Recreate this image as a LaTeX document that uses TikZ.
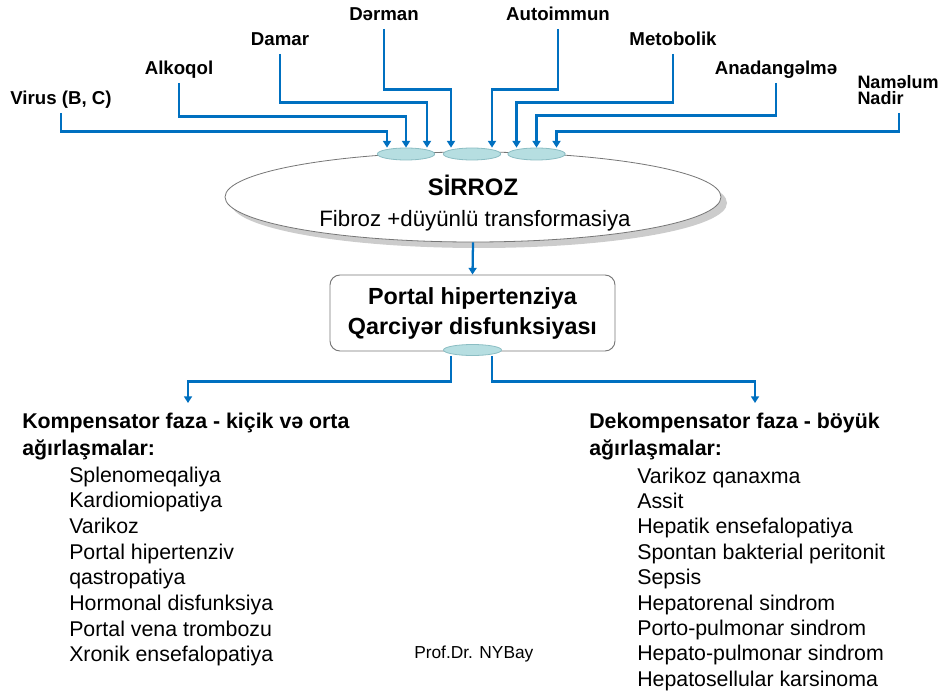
\documentclass[tikz,border=0pt]{standalone}
\usepackage{fontspec}
\setmainfont{Liberation Sans}
\usepackage{tikz}
\usetikzlibrary{arrows.meta,calc,shapes.geometric,shadows}
\definecolor{figblue}{HTML}{0070C0}
\definecolor{figteal}{HTML}{B6DEE1}
\definecolor{figtealdark}{HTML}{8BBDC3}
\definecolor{figgray}{HTML}{767676}
\tikzset{
  feed/.style={figblue,line width=1.7pt,-{Triangle[width=6pt,length=5pt]}},
  joint/.style={ellipse,draw=figtealdark,fill=figteal,line width=0.6pt,minimum width=43pt,minimum height=9pt,inner sep=0pt},
  cause/.style={font=\fontsize{14}{16}\selectfont\bfseries,text depth=0.25em,inner sep=3.3pt,anchor=south},
  phase/.style={font=\fontsize{16}{20}\selectfont\bfseries,anchor=base west,inner sep=0pt},
  item/.style={font=\fontsize{16}{19}\selectfont,anchor=base west,inner sep=0pt}
}
\begin{document}
\begin{tikzpicture}[x=0.75pt,y=-0.75pt]
    \useasboundingbox (0,0) rectangle (941,695);
    \node[ellipse,draw=figgray,fill=white,line width=0.6pt,minimum width=372pt,minimum height=67.5pt,inner sep=0pt,
      drop shadow={shadow xshift=4.5pt,shadow yshift=-4.5pt,opacity=0.4}] (sirroz) at (473,197) {};
    \node[font=\fontsize{17.9}{20}\selectfont\bfseries,anchor=base] (sirrozT) at (473,196) {SİRROZ};
    \node[font=\fontsize{16.7}{20}\selectfont,anchor=base] (sirrozS) at (475,226) {Fibroz +düyünlü transformasiya};
    \node[joint] (j1) at (406,154) {};
    \node[joint] (j2) at (472,154) {};
    \node[joint] (j3) at (536.5,154) {};
    \node[cause] (virus) at (61,113) {Virus (B, C)};
    \node[cause] (alkoqol) at (179,83) {Alkoqol};
    \node[cause] (damar) at (280,54) {Damar};
    \node[cause] (derman) at (384,29) {Dərman};
    \node[cause] (autoimmun) at (558,29) {Autoimmun};
    \node[cause] (metobolik) at (673,54) {Metobolik};
    \node[cause] (anadangelme) at (776,83) {Anadangəlmə};
    \node[cause,font=\fontsize{13.5}{12.5}\selectfont\bfseries,align=left] (namelum) at (898,113) {Naməlum\\Nadir};
    \foreach \src/\sx/\dst/\dx/\dy in {virus/0/j1/-19/-16, alkoqol/0/j1/0/-31, damar/0/j1/21/-45,
      derman/0/j2/-21/-58, autoimmun/0/j2/20/-58, metobolik/0/j3/-20/-45,
      anadangelme/0/j3/0/-32, namelum/1/j3/20/-16}
      \draw[feed] ($(\src.south)+(\sx,0)$) |- ($(\dst.north)+(\dx,\dy)$) -- ($(\dst.north)+(\dx,0)$);
    \node[draw=figgray,line width=0.7pt,rounded corners=7.5pt,minimum width=213.75pt,minimum height=57pt,align=center,
      font=\fontsize{17.5}{22.5}\selectfont\bfseries] (portal) at (472.5,313) {Portal hipertenziya\\Qarciyər disfunksiyası};
    \node[joint,minimum width=43.5pt,minimum height=8.25pt] (jp) at (472.5,350) {};
    \draw[feed] (sirroz.south) -- (portal.north);
    \coordinate (kompIn) at (188,403);
    \coordinate (dekIn) at (755,403);
    \draw[feed] ($(jp.south)+(-21.5,0)$) -- ++(0,25.5) -| (kompIn);
    \draw[feed] ($(jp.south)+(19.5,0)$) -- ++(0,25.5) -| (dekIn);
    \node[phase] (kompA) at (22,428) {Kompensator faza - kiçik və orta};
    \node[phase] (kompB) at (22,455) {ağırlaşmalar:};
    \foreach \t [count=\i] in {Splenomeqaliya, Kardiomiopatiya, Varikoz, Portal hipertenziv, qastropatiya,
      Hormonal disfunksiya, Portal vena trombozu, Xronik ensefalopatiya}
      \node[item] (komp\i) at (69,{482+25.7*(\i-1)}) {\t};
    \node[phase] (dekA) at (589,428) {Dekompensator faza - böyük};
    \node[phase] (dekB) at (589,455) {ağırlaşmalar:};
    \foreach \t [count=\i] in {Varikoz qanaxma, Assit, Hepatik ensefalopatiya, Spontan bakterial peritonit, Sepsis,
      Hepatorenal sindrom, Porto-pulmonar sindrom, Hepato-pulmonar sindrom, Hepatosellular karsinoma}
      \node[item] (dek\i) at (637,{483+25.4*(\i-1)}) {\t};
    \node[font=\fontsize{13}{15}\selectfont,anchor=base west,inner sep=0pt] (prof) at (414,658) {Prof.Dr. NYBay};
  \end{tikzpicture}
\end{document}
